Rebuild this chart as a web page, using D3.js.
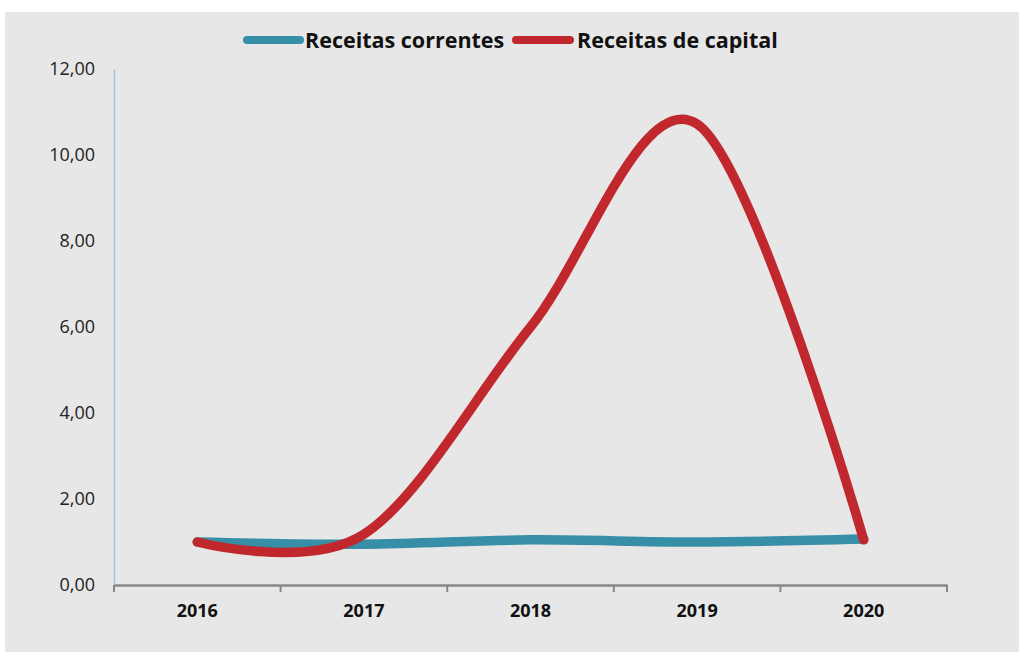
<!DOCTYPE html>
<html><head><meta charset="utf-8">
<script src="https://cdn.jsdelivr.net/npm/d3@7"></script>
<style>body{margin:0;background:#fff}svg{display:block}</style>
</head><body><svg id="c" width="1019" height="652"></svg>
<script>
const years = ["2016","2017","2018","2019","2020"];
const correntes = [1.00, 0.95, 1.05, 1.00, 1.07];
const capital = [1.00, 1.18, 6.00, 10.72, 1.05];
const yTicks = [0,2,4,6,8,10,12];
const seriesNames = ["Receitas correntes","Receitas de capital"];
const colors = ["#368fa6","#c1282d"];

(function(){
const svg = d3.select("#c");
svg.append("rect").attr("x",5).attr("y",12).attr("width",1014).attr("height",640).attr("fill","#e7e7e7");

const pL=114, pR=947, pT=69, pB=585;
const x = d3.scaleBand().domain(years).range([pL,pR]);
const y = d3.scaleLinear().domain([0,12]).range([pB,pT]);
const fmt = v => d3.format(".2f")(v).replace(".",",");

const ya = svg.append("g").attr("transform",`translate(${pL},0)`)
  .call(d3.axisLeft(y).tickValues(yTicks).tickFormat(fmt).tickSize(0).tickPadding(19));
ya.select(".domain").attr("stroke","#9dc3e6").attr("stroke-width",1.5);
ya.selectAll("text").attr("font-family","Open Sans, sans-serif").attr("font-size",18).attr("fill","#222");

const xa = svg.append("g").attr("transform",`translate(0,${pB})`)
  .call(d3.axisBottom(x).tickSize(0).tickPadding(19));
xa.select(".domain").attr("stroke","#888").attr("stroke-width",2.5);
xa.selectAll("text").attr("font-family","Open Sans, sans-serif").attr("font-weight","bold").attr("font-size",18).attr("fill","#111");
const bounds = years.map(d=>x(d)).concat([x(years[years.length-1])+x.bandwidth()]);
svg.append("g").selectAll("line").data(bounds).join("line")
  .attr("x1",d=>d).attr("x2",d=>d).attr("y1",pB).attr("y2",pB+7)
  .attr("stroke","#888").attr("stroke-width",2);

const line = d3.line().x((d,i)=>x(years[i])+x.bandwidth()/2).y(d=>y(d)).curve(d3.curveCatmullRom.alpha(0));
[correntes, capital].forEach((s,i)=>{
  svg.append("path").attr("d",line(s)).attr("fill","none").attr("stroke",colors[i])
    .attr("stroke-width",9.5).attr("stroke-linecap","round").attr("stroke-linejoin","round");
});

const leg = [{x1:247,x2:300,tx:305},{x1:516,x2:570,tx:577}];
leg.forEach((l,i)=>{
  svg.append("line").attr("x1",l.x1).attr("x2",l.x2).attr("y1",40).attr("y2",40)
    .attr("stroke",colors[i]).attr("stroke-width",8).attr("stroke-linecap","round");
  svg.append("text").attr("x",l.tx).attr("y",48).text(seriesNames[i])
    .attr("font-family","Open Sans, sans-serif").attr("font-weight","bold").attr("font-size",21.5).attr("fill","#111");
});
})();
</script></body></html>
